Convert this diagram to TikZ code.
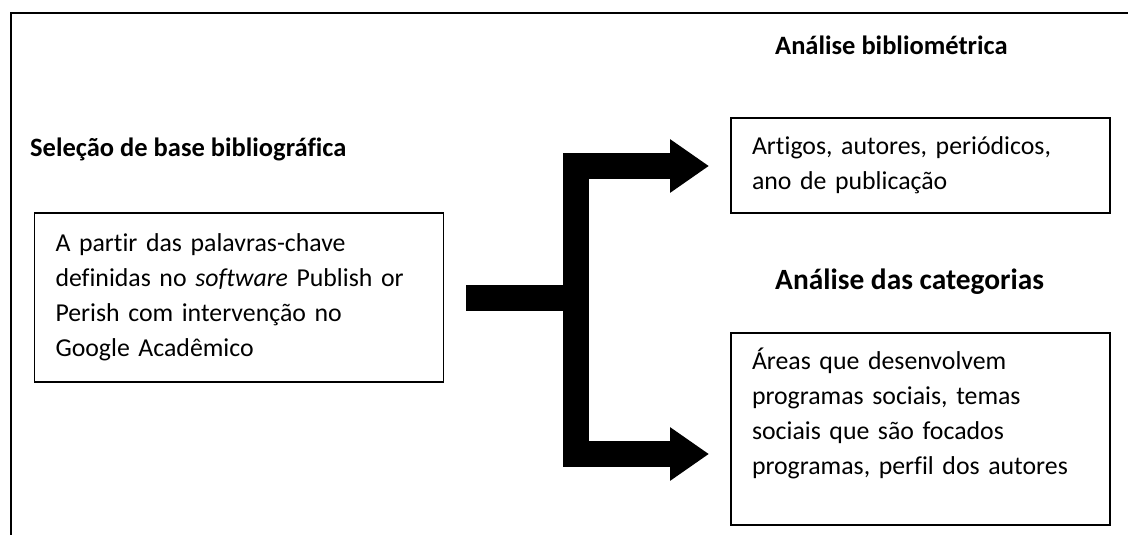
\documentclass[tikz,border=0pt]{standalone}
\usepackage{fontspec}
\setmainfont{Carlito}[Ligatures={NoCommon,TeX}]
\usetikzlibrary{arrows.meta,positioning}

\begin{document}
\begin{tikzpicture}[x=1pt,y=-1pt]
	\tikzset{
		frame/.style={line width=1.5pt},
		textbox/.style={draw,line width=1.8pt,align=left,inner xsep=21pt,
			font=\fontsize{25.8}{35}\selectfont},
		heading/.style={font=\bfseries\fontsize{26.5}{30}\selectfont,inner sep=0pt},
		bigstem/.style={line width=26pt},
		bigarrow/.style={line width=26pt,line join=miter,
			-{Triangle[length=39pt,width=51pt]}}
	}
	\useasboundingbox (0,0) rectangle (1128,535);

	% open frame round the figure
	\draw[frame] (11,535) -- (11,13) -- (1128,13);

	% headings
	\node[heading,anchor=base west] (hsel) at (30,156) {Seleção de base bibliográfica};
	\node[heading,anchor=base west] (hbib) at (775,55) {Análise bibliométrica};
	\node[heading,anchor=base west,font=\bfseries\fontsize{29.4}{34}\selectfont] (hcat)
		at (775,289) {Análise das categorias};

	% boxes
	\node[textbox,text width=367pt,minimum height=169pt] (sel) at (239,297.5)
		{A partir das palavras-chave\\definidas no \textit{software} Publish or\\
		Perish com intervenção no\\Google Acadêmico};
	\node[textbox,text width=337pt,minimum height=95pt] (bib) at (920.5,165.5)
		{Artigos, autores, periódicos,\\ano de publicação};
	\node[textbox,text width=337pt,minimum height=192pt] (cat) at (920.5,429)
		{Áreas que desenvolvem\\programas sociais, temas\\sociais que são focados\\
		programas, perfil dos autores\\~};

	% forked block arrow
	\coordinate (fork) at (575.5,297.5);
	\coordinate (tipbib) at (709,166);
	\coordinate (tipcat) at (709,454);
	\draw[bigstem] ([xshift=22pt]sel.east) -- (fork);
	\draw[bigarrow] (fork) |- (tipbib);
	\draw[bigarrow] (fork) |- (tipcat);

\end{tikzpicture}
\end{document}
